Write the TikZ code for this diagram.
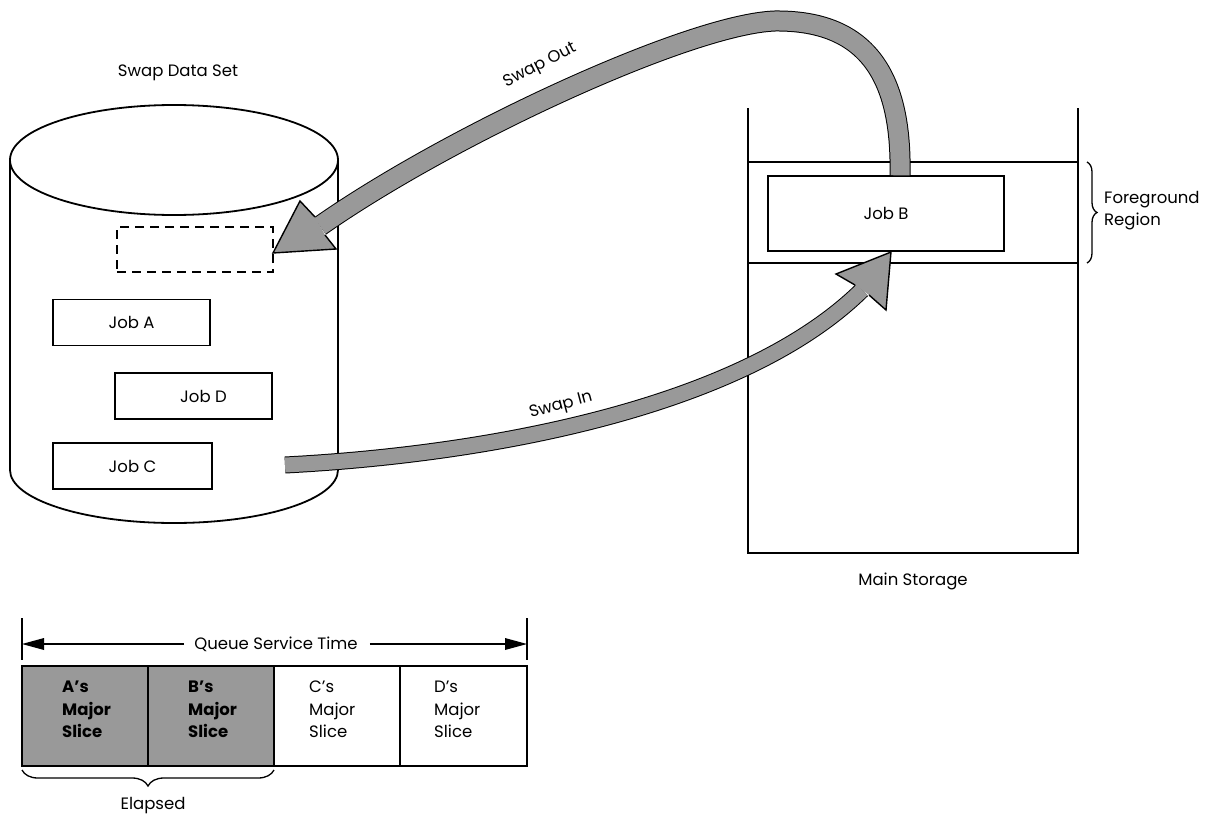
\documentclass[tikz,border=0pt]{standalone}
\usepackage{fontspec}
\setmainfont{Poppins}
\usetikzlibrary{decorations.pathreplacing,calc}
\definecolor{swapgray}{gray}{0.6}
\tikzset{
  lbl/.style={font=\fontsize{16.5}{22}\selectfont, inner sep=0pt},
  jobbox/.style={draw, line width=1.3pt, minimum width=157pt, minimum height=46pt, font=\fontsize{16.5}{18}\selectfont},
  wall/.style={line width=1.8pt},
  band/.style={line width=1pt, double=swapgray, draw=black},
  head/.style={fill=swapgray, draw=black, line width=1.4pt, line join=miter},
  cell/.style={line width=1.2pt},
  celltext/.style={font=\fontsize{16.5}{22.5}\selectfont, align=left, inner sep=0pt, anchor=north west},
}
\begin{document}
\begin{tikzpicture}[x=1pt,y=-1pt]
\useasboundingbox (0,0) rectangle (1207,816);
\fill[white] (0,0) rectangle (1207,816);

% ---- Swap data set cylinder
\node[lbl] (sds) at (178,73) {Swap Data Set};
\draw[wall] (174,160) ellipse [x radius=164, y radius=55];
\draw[wall] (10,160) -- (10,470) arc[start angle=180, end angle=0, x radius=164, y radius=53] -- (338,160);

\node[draw, dashed, dash pattern=on 9pt off 6pt, line width=1.3pt, minimum width=156pt, minimum height=45pt] (slot) at (195,249.5) {};
\node[jobbox] (ja) at (131.5,322.5) {Job A};
\node[jobbox] (jd) at (193.5,396) {\hspace*{20pt}Job D};
\node[jobbox, minimum width=159pt] (jc) at (132.5,466) {Job C};

% ---- Main storage
\draw[wall] (748,108) -- (748,553) -- (1078,553) -- (1078,108);
\draw[line width=1.5pt] (748,162) -- (1078,162);
\draw[line width=1.5pt] (748,263) -- (1078,263);
\node[draw, line width=1.3pt, minimum width=236pt, minimum height=75pt, font=\fontsize{16.5}{18}\selectfont] (jb) at (886,213.5) {Job B};
\node[lbl] (ms) at (913,581) {Main Storage};
\draw[line width=1.3pt, decorate, decoration={brace, amplitude=10pt}] (1087,162) -- (1087,263);
\node[lbl, align=left, anchor=west] (fg) at (1104,211) {Foreground\\Region};

% ---- Swap out arrow
\coordinate (soStart) at (jb.north -| 900,0);
\coordinate (soEnd) at (320,226);
\draw[band, double distance=19pt] (soStart) .. controls (902,80) and (870,20) .. (775,21) .. controls (690,24) and (450,135) .. (soEnd);
\filldraw[head] (315,217) -- (300,201) -- (273,253) -- (336,249) -- (325,235);
\node[lbl, rotate=27] (so) at (540,66) {Swap Out};

% ---- Swap in arrow
\coordinate (siStart) at (285,465);
\coordinate (siEnd) at (862,290);
\draw[band, double distance=15pt] (siStart) .. controls (480,455) and (740,410) .. (siEnd);
\filldraw[head] (855,285) -- (836,274) -- (891,252) -- (886,310) -- (869,295);
\node[lbl, rotate=15] (si) at (561,406) {Swap In};

% ---- Queue service time bar
\fill[swapgray] (22,666) rectangle (274,766);
\draw[line width=2.4pt] (22,666) rectangle (527,766);
\draw[cell] (148,666) -- (148,766);
\draw[cell] (274,666) -- (274,766);
\draw[cell] (400,666) -- (400,766);
\node[celltext] (ca) at (62,681) {\bfseries A's\\\bfseries Major\\\bfseries Slice};
\node[celltext] (cb) at (188,681) {\bfseries B's\\\bfseries Major\\\bfseries Slice};
\node[celltext] (cc) at (309,681) {C's\\Major\\Slice};
\node[celltext] (cd) at (434,681) {D's\\Major\\Slice};

\draw[line width=1.2pt] (22,618) -- (22,660);
\draw[line width=1.2pt] (527,618) -- (527,660);
\node[lbl] (qst) at (276,644) {Queue Service Time};
\coordinate (qL) at (22,644);
\coordinate (qR) at (527,644);
\draw[line width=1.2pt] ($(qst.west)+(-10,0)$) -- ($(qL)+(18,0)$);
\draw[line width=1.2pt] ($(qst.east)+(12,0)$) -- ($(qR)+(-18,0)$);
\fill (qL) -- ++(22,-6) -- ++(0,12) -- cycle;
\fill (qR) -- ++(-22,-6) -- ++(0,12) -- cycle;

\draw[line width=1.3pt, decorate, decoration={brace, amplitude=16pt, mirror}] (22,770) -- (274,770);
\node[lbl] (el) at (153,806) {Elapsed};
\end{tikzpicture}
\end{document}
